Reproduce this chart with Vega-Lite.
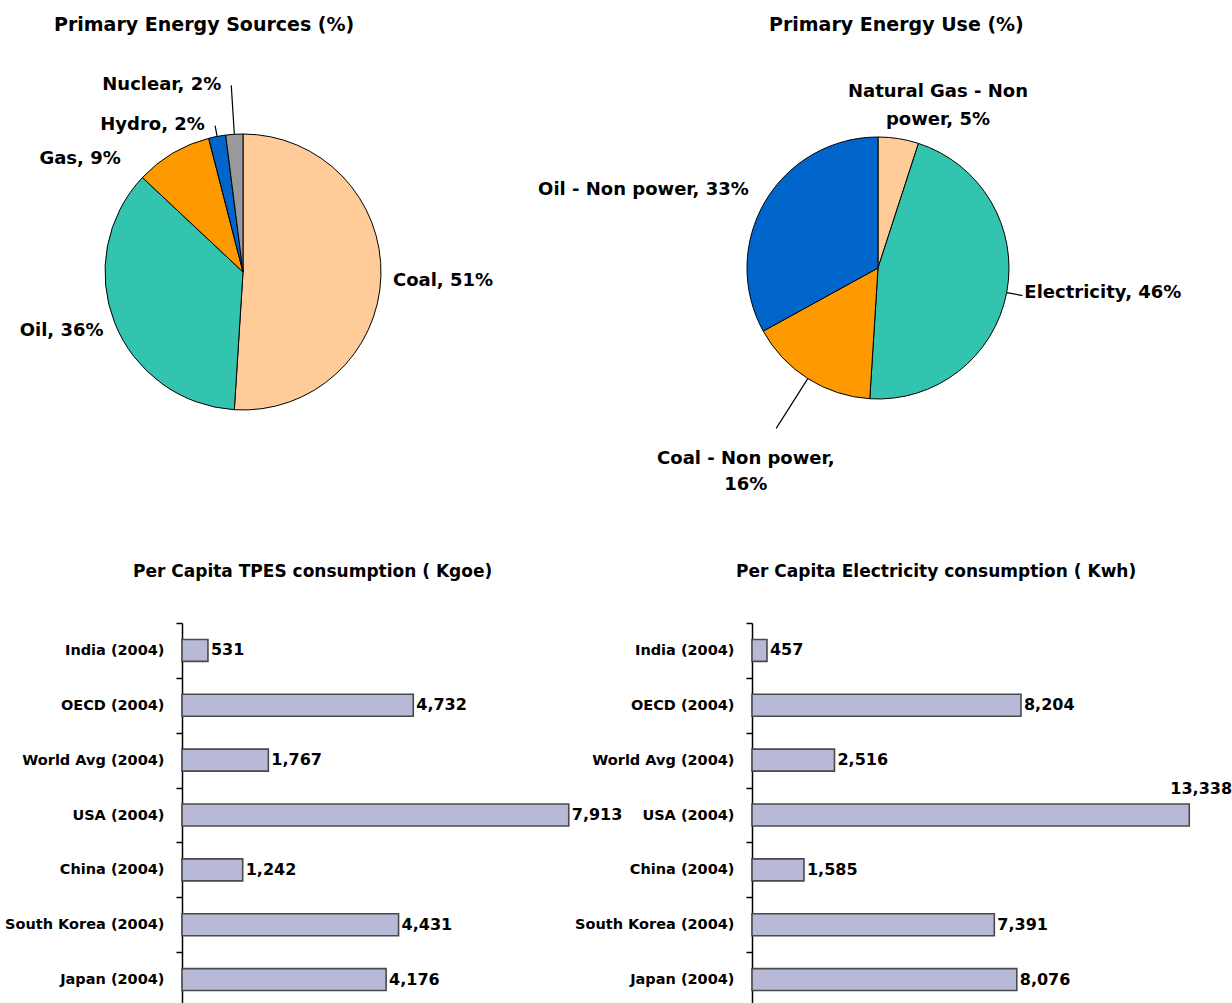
{
  "$schema": "https://vega.github.io/schema/vega-lite/v6.json",
  "padding": {"left": 4, "top": 16, "right": 0, "bottom": 0},
  "bounds": "flush",
  "spacing": 563,
  "config": {
    "view": {"stroke": null},
    "font": "DejaVu Sans",
    "text": {"font": "DejaVu Sans", "color": "black"},
    "title": {"font": "DejaVu Sans", "color": "black"},
    "axis": {"labelFont": "DejaVu Sans"}
  },
  "datasets": {
    "sources": [
      {"k": "Coal", "v": 51, "o": 1, "label": "Coal, 51%"},
      {"k": "Oil", "v": 36, "o": 2, "label": "Oil, 36%"},
      {"k": "Gas", "v": 9, "o": 3, "label": "Gas, 9%"},
      {"k": "Hydro", "v": 2, "o": 4, "label": "Hydro, 2%"},
      {"k": "Nuclear", "v": 2, "o": 5, "label": "Nuclear, 2%"}
    ],
    "use": [
      {"k": "Natural Gas", "v": 5, "o": 1, "label": "Natural Gas - Non\npower, 5%"},
      {"k": "Electricity", "v": 46, "o": 2, "label": "Electricity, 46%"},
      {"k": "Coal", "v": 16, "o": 3, "label": "Coal - Non power,\n16%"},
      {"k": "Oil", "v": 33, "o": 4, "label": "Oil - Non power, 33%"}
    ],
    "tpes": [
      {"c": "India (2004)", "v": 531},
      {"c": "OECD (2004)", "v": 4732},
      {"c": "World Avg (2004)", "v": 1767},
      {"c": "USA (2004)", "v": 7913},
      {"c": "China (2004)", "v": 1242},
      {"c": "South Korea (2004)", "v": 4431},
      {"c": "Japan (2004)", "v": 4176}
    ],
    "elec": [
      {"c": "India (2004)", "v": 457},
      {"c": "OECD (2004)", "v": 8204},
      {"c": "World Avg (2004)", "v": 2516},
      {"c": "USA (2004)", "v": 13338},
      {"c": "China (2004)", "v": 1585},
      {"c": "South Korea (2004)", "v": 7391},
      {"c": "Japan (2004)", "v": 8076}
    ]
  },
  "vconcat": [
    {
      "bounds": "flush",
      "spacing": 513,
      "resolve": {"scale": {"color": "independent", "theta": "independent"}},
      "hconcat": [
        {
          "width": 122,
          "height": 424,
          "title": {"text": "Primary Energy Sources (%)", "anchor": "start", "frame": "group", "dx": -128, "offset": 6, "baseline": "bottom", "fontSize": 19, "fontWeight": "bold"},
          "data": {"name": "sources"},
          "encoding": {
            "theta": {"field": "v", "type": "quantitative", "stack": true},
            "order": {"field": "o", "type": "quantitative"},
            "detail": {"field": "k", "type": "nominal"}
          },
          "layer": [
            {
              "mark": {"type": "arc", "outerRadius": 138, "stroke": "black", "strokeWidth": 1},
              "encoding": {
                "color": {
                  "field": "k", "type": "nominal", "legend": null,
                  "scale": {"domain": ["Coal", "Oil", "Gas", "Hydro", "Nuclear"], "range": ["#FFCC99", "#33C4B0", "#FF9900", "#0066CC", "#999999"]}
                }
              }
            },
            {
              "mark": {"type": "arc", "innerRadius": 138, "outerRadius": 187, "padAngle": 3, "fill": "transparent", "stroke": "black", "strokeWidth": 1.2},
              "encoding": {"strokeOpacity": {"condition": {"test": "datum.k == 'Nuclear'", "value": 1}, "value": 0}}
            },
            {
              "mark": {"type": "arc", "innerRadius": 138, "outerRadius": 149, "padAngle": 3, "fill": "transparent", "stroke": "black", "strokeWidth": 1.2},
              "encoding": {"strokeOpacity": {"condition": {"test": "datum.k == 'Hydro'", "value": 1}, "value": 0}}
            },
            {
              "mark": {"type": "text", "radius": 150, "align": "left", "baseline": "middle", "dy": 4, "fontSize": 18, "fontWeight": "bold"},
              "encoding": {"text": {"condition": {"test": "datum.k == 'Coal'", "field": "label", "type": "nominal"}, "value": ""}}
            },
            {
              "mark": {"type": "text", "radius": 150, "align": "right", "baseline": "middle", "dy": 4, "fontSize": 18, "fontWeight": "bold"},
              "encoding": {"text": {"condition": {"test": "datum.k == 'Oil'", "field": "label", "type": "nominal"}, "value": ""}}
            },
            {
              "mark": {"type": "text", "radius": 138, "align": "right", "baseline": "middle", "dx": -52, "dy": 6, "fontSize": 18, "fontWeight": "bold"},
              "encoding": {"text": {"condition": {"test": "datum.k == 'Gas'", "field": "label", "type": "nominal"}, "value": ""}}
            },
            {
              "mark": {"type": "text", "radius": 150, "align": "right", "baseline": "middle", "dx": -10, "fontSize": 18, "fontWeight": "bold"},
              "encoding": {"text": {"condition": {"test": "datum.k == 'Hydro'", "field": "label", "type": "nominal"}, "value": ""}}
            },
            {
              "mark": {"type": "text", "radius": 187, "align": "right", "baseline": "middle", "dx": -10, "fontSize": 18, "fontWeight": "bold"},
              "encoding": {"text": {"condition": {"test": "datum.k == 'Nuclear'", "field": "label", "type": "nominal"}, "value": ""}}
            }
          ]
        },
        {
          "width": 122,
          "height": 416,
          "title": {"text": "Primary Energy Use (%)", "anchor": "start", "frame": "group", "dx": -48, "offset": 6, "baseline": "bottom", "fontSize": 19, "fontWeight": "bold"},
          "data": {"name": "use"},
          "encoding": {
            "theta": {"field": "v", "type": "quantitative", "stack": true},
            "order": {"field": "o", "type": "quantitative"},
            "detail": {"field": "k", "type": "nominal"}
          },
          "layer": [
            {
              "mark": {"type": "arc", "outerRadius": 131, "stroke": "black", "strokeWidth": 1},
              "encoding": {
                "color": {
                  "field": "k", "type": "nominal", "legend": null,
                  "scale": {"domain": ["Natural Gas", "Electricity", "Coal", "Oil"], "range": ["#FFCC99", "#33C4B0", "#FF9900", "#0066CC"]}
                }
              }
            },
            {
              "mark": {"type": "arc", "innerRadius": 131, "outerRadius": 147, "padAngle": 3, "fill": "transparent", "stroke": "black", "strokeWidth": 1.2},
              "encoding": {"strokeOpacity": {"condition": {"test": "datum.k == 'Electricity'", "value": 1}, "value": 0}}
            },
            {
              "mark": {"type": "arc", "innerRadius": 131, "outerRadius": 190, "padAngle": 3, "fill": "transparent", "stroke": "black", "strokeWidth": 1.2},
              "encoding": {"strokeOpacity": {"condition": {"test": "datum.k == 'Coal'", "value": 1}, "value": 0}}
            },
            {
              "mark": {"type": "text", "radius": 166, "align": "center", "baseline": "middle", "dx": 34, "dy": -12, "lineBreak": "\n", "lineHeight": 28, "fontSize": 18, "fontWeight": "bold"},
              "encoding": {"text": {"condition": {"test": "datum.k == 'Natural Gas'", "field": "label", "type": "nominal"}, "value": ""}}
            },
            {
              "mark": {"type": "text", "radius": 149, "align": "left", "baseline": "middle", "dy": -3, "fontSize": 18, "fontWeight": "bold"},
              "encoding": {"text": {"condition": {"test": "datum.k == 'Electricity'", "field": "label", "type": "nominal"}, "value": ""}}
            },
            {
              "mark": {"type": "text", "radius": 200, "align": "center", "baseline": "top", "dx": -25, "dy": 13, "lineBreak": "\n", "lineHeight": 26, "fontSize": 18, "fontWeight": "bold"},
              "encoding": {"text": {"condition": {"test": "datum.k == 'Coal'", "field": "label", "type": "nominal"}, "value": ""}}
            },
            {
              "mark": {"type": "text", "radius": 142, "align": "right", "baseline": "middle", "dx": -7, "dy": -6, "fontSize": 18, "fontWeight": "bold"},
              "encoding": {"text": {"condition": {"test": "datum.k == 'Oil'", "field": "label", "type": "nominal"}, "value": ""}}
            }
          ]
        }
      ]
    },
    {
      "bounds": "flush",
      "spacing": 179,
      "hconcat": [
        {
          "width": 391,
          "height": 384,
          "title": {"text": "Per Capita TPES consumption (  Kgoe)", "anchor": "start", "frame": "group", "dx": -49, "offset": 17, "baseline": "bottom", "fontSize": 17, "fontWeight": "bold"},
          "data": {"name": "tpes"},
          "encoding": {
            "y": {
              "field": "c", "type": "nominal", "sort": null,
              "scale": {"paddingInner": 0, "paddingOuter": 0},
              "axis": {"title": null, "domainColor": "black", "domainWidth": 1.5, "tickColor": "black", "tickWidth": 1.5, "tickSize": 6, "tickBand": "extent", "labelFontSize": 14.5, "labelFontWeight": "bold", "labelColor": "black", "labelPadding": 12, "labelLimit": 300}
            },
            "x": {"field": "v", "type": "quantitative", "scale": {"domain": [0, 8000]}, "axis": null}
          },
          "layer": [
            {"mark": {"type": "bar", "height": {"band": 0.4}, "fill": "#B8B9D6", "stroke": "#4A4A4A", "strokeWidth": 1.6}},
            {
              "mark": {"type": "text", "align": "left", "baseline": "middle", "dx": 3, "fontSize": 16, "fontWeight": "bold"},
              "encoding": {"text": {"field": "v", "type": "quantitative", "format": ","}}
            }
          ]
        },
        {
          "width": 459,
          "height": 384,
          "title": {"text": "Per Capita Electricity consumption (  Kwh)", "anchor": "start", "frame": "group", "dx": -16, "offset": 17, "baseline": "bottom", "fontSize": 17, "fontWeight": "bold"},
          "data": {"name": "elec"},
          "encoding": {
            "y": {
              "field": "c", "type": "nominal", "sort": null,
              "scale": {"paddingInner": 0, "paddingOuter": 0},
              "axis": {"title": null, "domainColor": "black", "domainWidth": 1.5, "tickColor": "black", "tickWidth": 1.5, "tickSize": 6, "tickBand": "extent", "labelFontSize": 14.5, "labelFontWeight": "bold", "labelColor": "black", "labelPadding": 12, "labelLimit": 300}
            },
            "x": {"field": "v", "type": "quantitative", "scale": {"domain": [0, 14000]}, "axis": null}
          },
          "layer": [
            {"mark": {"type": "bar", "height": {"band": 0.4}, "fill": "#B8B9D6", "stroke": "#4A4A4A", "strokeWidth": 1.6}},
            {
              "transform": [{"filter": "datum.v < 10000"}],
              "mark": {"type": "text", "align": "left", "baseline": "middle", "dx": 3, "fontSize": 16, "fontWeight": "bold"},
              "encoding": {"text": {"field": "v", "type": "quantitative", "format": ","}}
            },
            {
              "transform": [{"filter": "datum.v >= 10000"}],
              "mark": {"type": "text", "align": "left", "baseline": "middle", "dx": -19, "dy": -26, "fontSize": 16, "fontWeight": "bold"},
              "encoding": {"text": {"field": "v", "type": "quantitative", "format": ","}}
            }
          ]
        }
      ]
    }
  ]
}
